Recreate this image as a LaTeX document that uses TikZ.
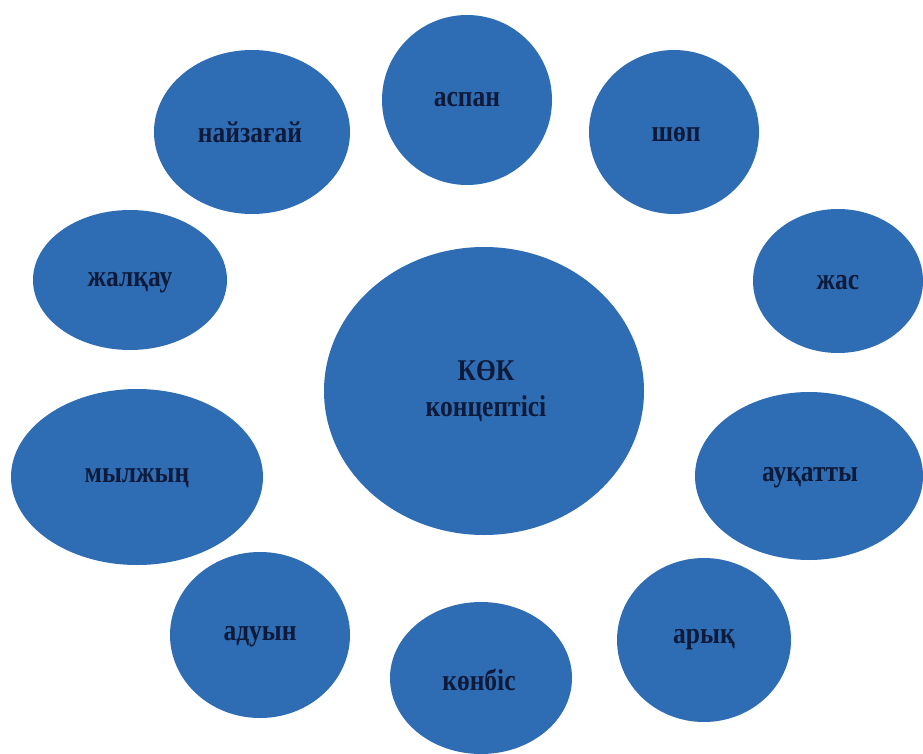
\documentclass[tikz,border=0pt]{standalone}
\usepackage{fontspec}
\usepackage{graphicx}
\setmainfont{Liberation Serif}
\definecolor{bubble}{RGB}{46,109,180}
\definecolor{ink}{RGB}{14,26,58}
\newcommand{\tallt}[1]{\scalebox{1}[1.18]{#1}}
\begin{document}
\begin{tikzpicture}[x=1pt,y=-1pt,
  bub/.style={fill=bubble,draw=none},
  lab/.style={font=\bfseries\fontsize{25.5}{27}\selectfont,text=ink,align=center,inner sep=0pt}]
\useasboundingbox (0,0) rectangle (923,754);
% ellipses (center, rx, ry)
\fill[bub] (467,100) ellipse [x radius=85,y radius=85];
\fill[bub] (252,132) ellipse [x radius=98,y radius=82];
\fill[bub] (674,132) ellipse [x radius=85,y radius=82];
\fill[bub] (130,280) ellipse [x radius=97,y radius=70];
\fill[bub] (838,281) ellipse [x radius=85,y radius=72];
\fill[bub] (484,391) ellipse [x radius=160,y radius=144];
\fill[bub] (137,477) ellipse [x radius=126,y radius=88];
\fill[bub] (809,476) ellipse [x radius=114,y radius=84];
\fill[bub] (260,635) ellipse [x radius=90,y radius=83];
\fill[bub] (481,678) ellipse [x radius=91,y radius=76];
\fill[bub] (704,640) ellipse [x radius=87,y radius=82];
% labels
\node[lab] (aspan) at (467,100) {\tallt{аспан}};
\node[lab] (naiz) at (250,132) {\tallt{найзағай}};
\node[lab] (shop) at (676,135) {\tallt{шөп}};
\node[lab] (zhalk) at (130,283) {\tallt{жалқау}};
\node[lab] (zhas) at (838,283) {\tallt{жас}};
\node[lab] (kok) at (486,371) {\tallt{КӨК}};
\node[lab] (konc) at (486,409) {\tallt{концептісі}};
\node[lab] (myl) at (137,478) {\tallt{мылжың}};
\node[lab] (auk) at (810,478) {\tallt{ауқатты}};
\node[lab] (aduyn) at (260,637) {\tallt{адуын}};
\node[lab] (konb) at (479,680) {\tallt{көнбіс}};
\node[lab] (aryk) at (704,640) {\tallt{арық}};
\end{tikzpicture}
\end{document}
